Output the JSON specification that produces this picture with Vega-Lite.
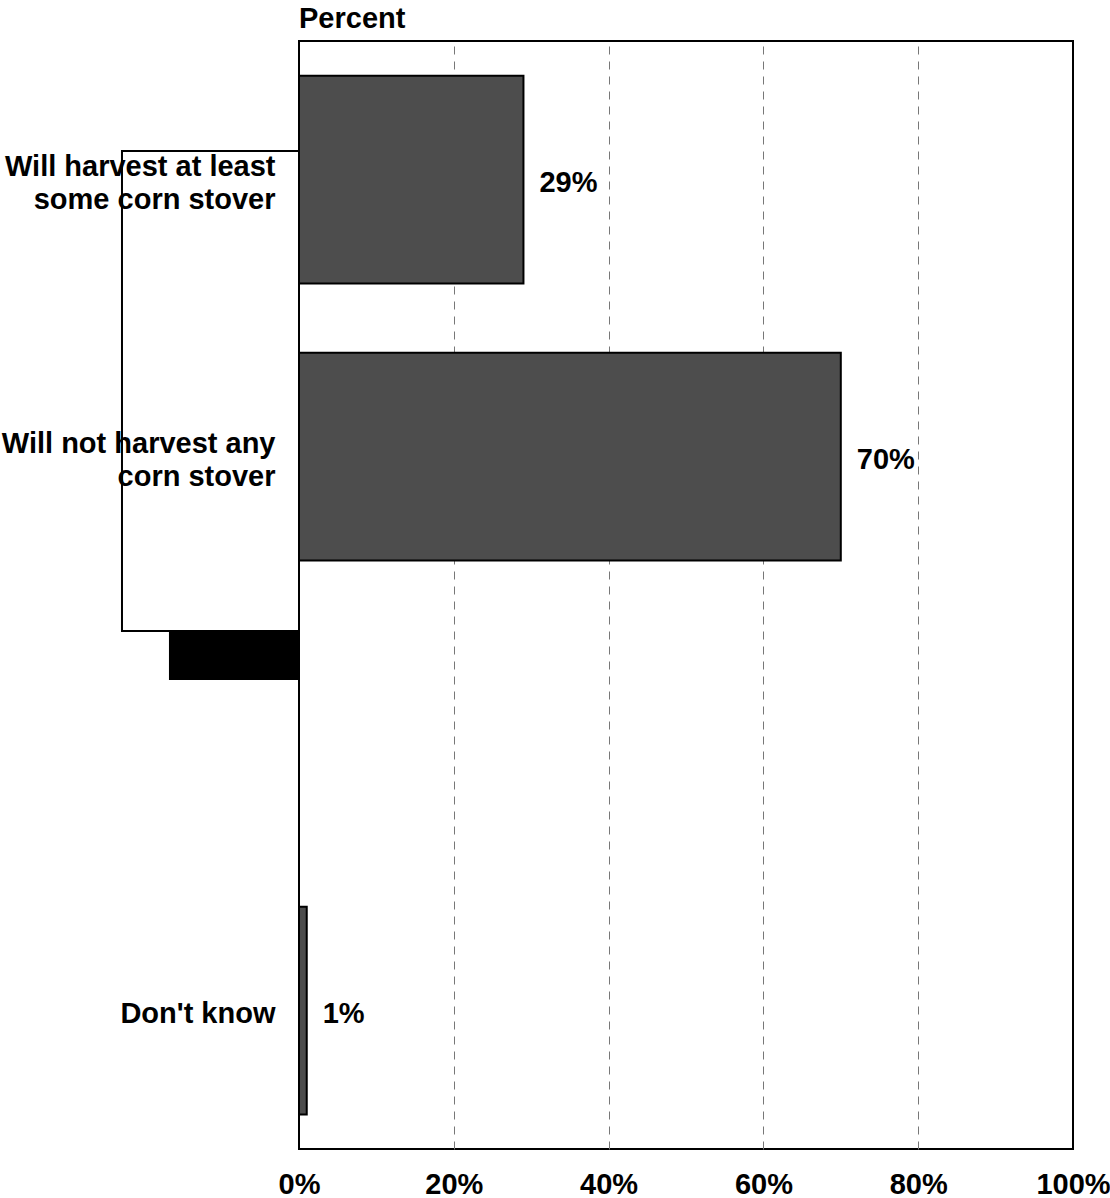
{
  "$schema": "https://vega.github.io/schema/vega-lite/v6.json",
  "autosize": "none",
  "padding": {"left": 299, "top": 41, "right": 37, "bottom": 49},
  "width": 774,
  "height": 1108,
  "background": "white",
  "config": {
    "font": "Liberation Sans",
    "view": {"stroke": "black", "strokeWidth": 2},
    "title": {"font": "Liberation Sans", "fontSize": 29, "fontWeight": "bold", "color": "black", "anchor": "start", "frame": "group", "baseline": "alphabetic", "offset": 7}
  },
  "title": "Percent",
  "resolve": {"scale": {"y": "independent"}},
  "layer": [
    {
      "data": {"values": [
        {"category": "Will harvest at least|some corn stover", "pct": 29},
        {"category": "Will not harvest any|corn stover", "pct": 70},
        {"category": "Don't know", "pct": 1}
      ]},
      "encoding": {
        "y": {
          "field": "category", "type": "nominal",
          "scale": {"domain": ["Will harvest at least|some corn stover", "Will not harvest any|corn stover", " ", "Don't know"], "paddingInner": 0.25, "paddingOuter": 0.125},
          "axis": {"title": null, "domain": false, "ticks": false, "grid": false, "labelPadding": 24, "labelFontSize": 29, "labelFontWeight": "bold", "labelColor": "black", "labelFont": "Liberation Sans", "labelLineHeight": 33, "labelExpr": "split(datum.label, '|')", "labelOffset": {"condition": {"test": "indexof(datum.value, '|') >= 0", "value": -13}, "value": 3}, "zindex": 1, "labelLimit": 400}
        },
        "x": {
          "field": "pct", "type": "quantitative",
          "scale": {"domain": [0, 100], "nice": false},
          "axis": {"title": null, "values": [0, 20, 40, 60, 80, 100], "labelExpr": "datum.value + '%'", "domain": false, "ticks": false, "labelPadding": 21, "labelFontSize": 29, "labelFontWeight": "bold", "labelColor": "black", "labelFont": "Liberation Sans", "labelFlush": false, "labelOverlap": false, "grid": true, "gridColor": "#777777", "gridDash": [8, 7], "gridWidth": 1, "gridOpacity": {"condition": {"test": "datum.value == 0 || datum.value == 100", "value": 0}, "value": 1}}
        }
      },
      "layer": [
        {"mark": {"type": "bar", "fill": "#4d4d4d", "stroke": "black", "strokeWidth": 2}},
        {"mark": {"type": "text", "align": "left", "baseline": "middle", "dx": 16, "dy": 3, "fontSize": 29, "fontWeight": "bold", "color": "black", "text": {"expr": "datum.pct + '%'"}}}
      ]
    },
    {
      "data": {"values": [{"x1": -22.87, "x2": 0, "y1": 0.397, "y2": 2.13}]},
      "mark": {"type": "rect", "fill": "white", "stroke": "black", "strokeWidth": 2},
      "encoding": {
        "x": {"field": "x1", "type": "quantitative"},
        "x2": {"field": "x2"},
        "y": {"field": "y1", "type": "quantitative", "scale": {"domain": [0, 4], "reverse": true, "nice": false, "zero": false}, "axis": null},
        "y2": {"field": "y2"}
      }
    },
    {
      "data": {"values": [{"x1": -16.8, "x2": 0, "y1": 2.13, "y2": 2.307}]},
      "mark": {"type": "rect", "fill": "black"},
      "encoding": {
        "x": {"field": "x1", "type": "quantitative"},
        "x2": {"field": "x2"},
        "y": {"field": "y1", "type": "quantitative", "scale": {"domain": [0, 4], "reverse": true, "nice": false, "zero": false}, "axis": null},
        "y2": {"field": "y2"}
      }
    }
  ]
}
